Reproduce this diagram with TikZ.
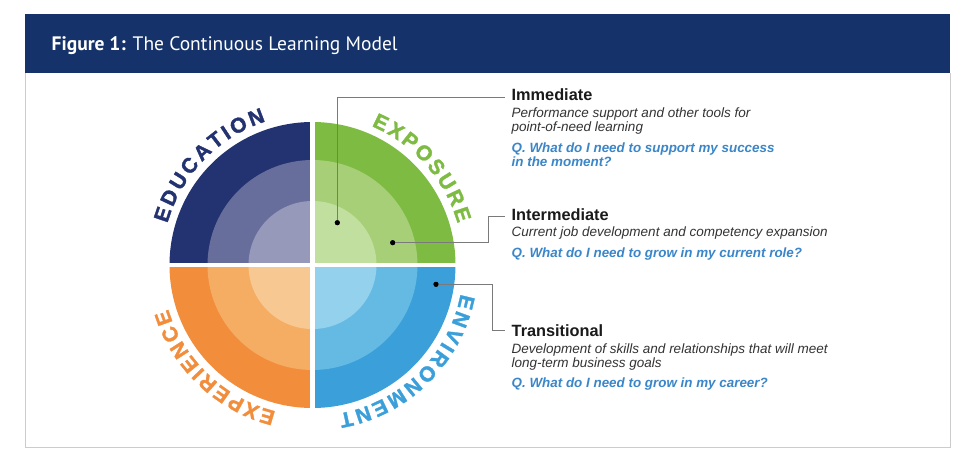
\documentclass[tikz,border=0pt]{standalone}
\usepackage{fontspec}
\setmainfont{Liberation Sans}
\newfontfamily\headfont{PT Sans}
\newfontfamily\ringfam[FakeBold=1.6]{Liberation Sans Bold}
\usetikzlibrary{decorations.text,calc}
\definecolor{navy}{HTML}{15336A}
\definecolor{framegray}{HTML}{CCCCCC}
\definecolor{eduA}{HTML}{233270}
\definecolor{eduB}{HTML}{676E9B}
\definecolor{eduC}{HTML}{9699BA}
\definecolor{expA}{HTML}{7DBB42}
\definecolor{expB}{HTML}{A6CF77}
\definecolor{expC}{HTML}{C1DF9E}
\definecolor{envA}{HTML}{3B9FDA}
\definecolor{envB}{HTML}{64BAE3}
\definecolor{envC}{HTML}{94D1EC}
\definecolor{xpeA}{HTML}{F28D3B}
\definecolor{xpeB}{HTML}{F5AD64}
\definecolor{xpeC}{HTML}{F8C892}
\definecolor{qblue}{HTML}{3A86C8}
\definecolor{desc}{HTML}{333333}
\definecolor{ttl}{HTML}{1A1A1A}
\definecolor{conn}{HTML}{7A7A7A}
\newcommand{\ringfont}{\ringfam\fontsize{21}{21}\selectfont}
\tikzset{
  ttlnode/.style={anchor=base west, inner sep=0pt, text=ttl, font=\fontsize{16.3}{17}\selectfont\bfseries},
  descnode/.style={anchor=base west, inner sep=0pt, text=desc, font=\fontsize{13.5}{14}\selectfont\itshape},
  qnode/.style={anchor=base west, inner sep=0pt, text=qblue, font=\fontsize{13.4}{14}\selectfont\bfseries\itshape},
  dotnode/.style={circle, fill=black, inner sep=0pt, minimum size=5pt},
  connline/.style={draw=conn, line width=0.9pt},
  ringlabel/.style={decorate, decoration={text along path, text align={fit to path}, text color=#1}}
}
\begin{document}
\begin{tikzpicture}[x=1pt,y=1pt]
\useasboundingbox (0,0) rectangle (966,-450);
\fill[white] (0,0) rectangle (966,-450);
% frame and header
\draw[framegray, line width=0.8pt] (25,-73) -- (25,-447) -- (950,-447) -- (950,-73);
\fill[navy] (25,-14) rectangle (950,-73);
\node[anchor=base west, inner sep=0pt, text=white, font=\headfont\fontsize{19.5}{22}\selectfont] (title) at (51.5,-50.7) {\textbf{Figure 1:} The Continuous Learning Model};

\coordinate (c) at (312.5,-265);
% quadrants
\begin{scope}
  \clip (c) rectangle ++(-150,150);
  \fill[eduA] (c) circle[radius=143];
  \fill[eduB] (c) circle[radius=105];
  \fill[eduC] (c) circle[radius=64];
\end{scope}
\begin{scope}
  \clip (c) rectangle ++(150,150);
  \fill[expA] (c) circle[radius=143];
  \fill[expB] (c) circle[radius=105];
  \fill[expC] (c) circle[radius=64];
\end{scope}
\begin{scope}
  \clip (c) rectangle ++(150,-150);
  \fill[envA] (c) circle[radius=143];
  \fill[envB] (c) circle[radius=105];
  \fill[envC] (c) circle[radius=64];
\end{scope}
\begin{scope}
  \clip (c) rectangle ++(-150,-150);
  \fill[xpeA] (c) circle[radius=143];
  \fill[xpeB] (c) circle[radius=105];
  \fill[xpeC] (c) circle[radius=64];
\end{scope}
\draw[white, line width=5pt] ($(c)+(0,150)$) -- ($(c)+(0,-150)$);
\draw[white, line width=4pt] ($(c)+(-150,0)$) -- ($(c)+(150,0)$);

% ring labels (clockwise, tops outward)
\path[ringlabel=eduA, decoration={text={|\ringfont|EDUCATION}}] ($(c)+(164:151)$) arc[start angle=164, end angle=108, radius=151];
\path[ringlabel=expA, decoration={text={|\ringfont|EXPOSURE}}] ($(c)+(67:151)$) arc[start angle=67, end angle=16, radius=151];
\path[ringlabel=envA, decoration={text={|\ringfont|ENVIRONMENT}}] ($(c)+(-11:151)$) arc[start angle=-11, end angle=-80, radius=151];
\path[ringlabel=xpeA, decoration={text={|\ringfont|EXPERIENCE}}] ($(c)+(256:151)$) arc[start angle=256, end angle=197, radius=151];

% dots
\node[dotnode] (d1) at (337.3,-222.7) {};
\node[dotnode] (d2) at (392.7,-242.7) {};
\node[dotnode] (d3) at (436,-284.3) {};
\coordinate (e1) at (505,-97);
\coordinate (k2) at (488.5,-242.7);
\coordinate (e2) at (505,-216);
\coordinate (k3) at (492.5,-284.3);
\coordinate (e3) at (505,-330.5);
\draw[connline] (d1.center) |- (e1);
\draw[connline] (d2.center) -- (k2) |- (e2);
\draw[connline] (d3.center) -- (k3) |- (e3);
\node[dotnode] at (d1) {};
\node[dotnode] at (d2) {};
\node[dotnode] at (d3) {};

% texts
\node[ttlnode] (t1) at (511.5,-100.7) {Immediate};
\node[descnode] (t1a) at (511.5,-117.3) {Performance support and other tools for};
\node[descnode] (t1b) at (511.5,-131.3) {point-of-need learning};
\node[qnode] (t1c) at (511.5,-152.7) {Q. What do I need to support my success};
\node[qnode] (t1d) at (511.5,-166) {in the moment?};

\node[ttlnode] (t2) at (511.5,-220) {Intermediate};
\node[descnode] (t2a) at (511.5,-236.7) {Current job development and competency expansion};
\node[qnode] (t2b) at (511.5,-257.3) {Q. What do I need to grow in my current role?};

\node[ttlnode] (t3) at (511.5,-336) {Transitional};
\node[descnode] (t3a) at (511.5,-353.8) {Development of skills and relationships that will meet};
\node[descnode] (t3b) at (511.5,-367) {long-term business goals};
\node[qnode] (t3c) at (511.5,-387.3) {Q. What do I need to grow in my career?};
\end{tikzpicture}
\end{document}
